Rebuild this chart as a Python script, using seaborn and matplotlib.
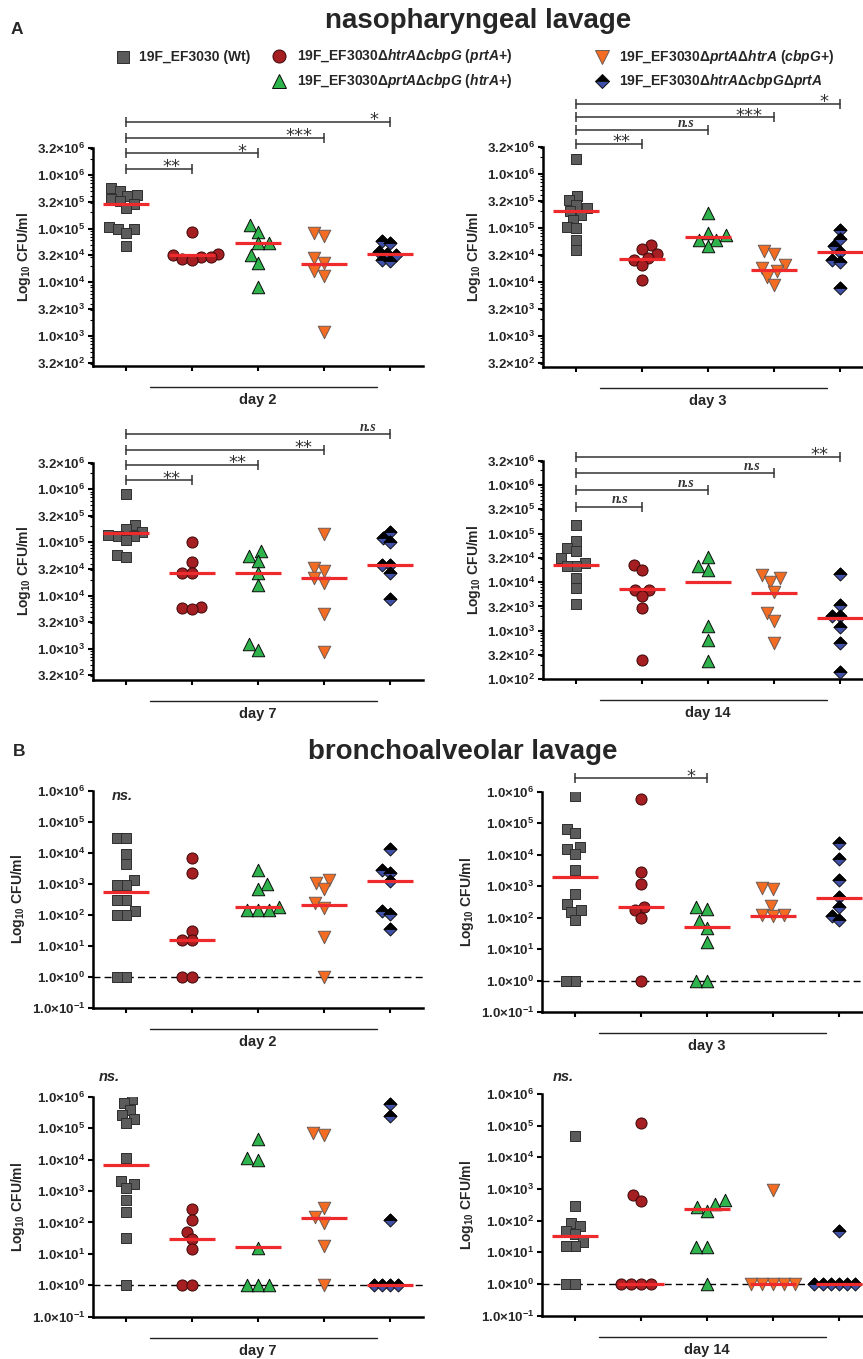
import numpy as np
import pandas as pd
import matplotlib.pyplot as plt
import seaborn as sns
from matplotlib.lines import Line2D
from matplotlib.markers import MarkerStyle
from matplotlib.ticker import FixedLocator, FuncFormatter, LogLocator, NullLocator
import warnings
warnings.filterwarnings('ignore')

# strains, in plotting order
STRAINS = ['Wt', 'prtA+', 'htrA+', 'cbpG+', 'triple']
LEGEND_LABELS = [
    '19F_EF3030 (Wt)',
    r'19F_EF3030Δ$\mathit{htrA}$Δ$\mathit{cbpG}$ ($\mathit{prtA}$+)',
    r'19F_EF3030Δ$\mathit{prtA}$Δ$\mathit{cbpG}$ ($\mathit{htrA}$+)',
    r'19F_EF3030Δ$\mathit{prtA}$Δ$\mathit{htrA}$ ($\mathit{cbpG}$+)',
    r'19F_EF3030Δ$\mathit{htrA}$Δ$\mathit{cbpG}$Δ$\mathit{prtA}$',
]

# ---- nasopharyngeal lavage (CFU/ml), one list per strain ----
NP_D2 = [
    [5.6e5, 4.9e5, 4.3e5, 4.0e5, 3.5e5, 3.2e5, 2.9e5, 2.4e5, 1.05e5, 1.0e5, 9.8e4, 8.1e4, 4.8e4],
    [8.5e4, 3.4e4, 3.2e4, 3.0e4, 3.0e4, 2.7e4, 2.6e4],
    [1.17e5, 8.5e4, 5.4e4, 5.4e4, 3.2e4, 2.3e4, 8.1e3],
    [8.1e4, 7.2e4, 2.8e4, 2.3e4, 1.6e4, 1.3e4, 1.2e3],
    [5.8e4, 5.3e4, 3.6e4, 3.4e4, 3.2e4, 2.6e4, 2.5e4],
]
NP_D2_MED = [2.9e5, 3.2e4, 5.4e4, 2.2e4, 3.4e4]
NP_D2_SIG = [(1, '**'), (2, '*'), (3, '***'), (4, '*')]

NP_D3 = [
    [1.9e6, 3.9e5, 3.2e5, 2.6e5, 2.3e5, 2.0e5, 1.7e5, 1.4e5, 1.05e5, 9.8e4, 5.8e4, 3.9e4],
    [4.8e4, 4.0e4, 3.3e4, 2.7e4, 2.5e4, 2.0e4, 1.07e4],
    [1.9e5, 8.1e4, 7.3e4, 6.0e4, 5.8e4, 4.5e4],
    [3.7e4, 3.3e4, 2.0e4, 1.8e4, 1.55e4, 1.23e4, 8.7e3],
    [9.1e4, 6.1e4, 4.5e4, 3.6e4, 2.5e4, 2.3e4, 7.6e3],
]
NP_D3_MED = [2.0e5, 2.6e4, 6.6e4, 1.66e4, 3.5e4]
NP_D3_SIG = [(1, '**'), (2, 'n.s'), (3, '***'), (4, '*')]

NP_D7 = [
    [8.0e5, 2.1e5, 1.8e5, 1.6e5, 1.4e5, 1.3e5, 1.3e5, 1.1e5, 5.8e4, 5.4e4],
    [1.0e5, 4.3e4, 2.7e4, 2.7e4, 6.2e3, 5.9e3, 5.5e3],
    [6.9e4, 5.6e4, 4.5e4, 2.6e4, 1.6e4, 1.25e3, 9.6e2],
    [1.45e5, 3.3e4, 2.9e4, 2.1e4, 1.7e4, 4.5e3, 8.5e2],
    [1.6e5, 1.2e5, 1.0e5, 3.8e4, 3.8e4, 2.7e4, 8.7e3],
]
NP_D7_MED = [1.5e5, 2.7e4, 2.6e4, 2.1e4, 3.7e4]
NP_D7_SIG = [(1, '**'), (2, '**'), (3, '**'), (4, 'n.s')]

NP_D14 = [
    [1.5e5, 7.1e4, 5.0e4, 4.3e4, 3.1e4, 2.5e4, 2.2e4, 2.2e4, 1.2e4, 7.4e3, 3.5e3],
    [2.3e4, 1.8e4, 6.9e3, 6.9e3, 5.2e3, 3.0e3, 2.5e2],
    [3.3e4, 2.1e4, 1.8e4, 1.26e3, 6.5e2, 2.4e2],
    [1.4e4, 1.2e4, 1.0e4, 6.3e3, 2.3e3, 1.6e3, 5.7e2],
    [1.5e4, 3.4e3, 2.0e3, 2.0e3, 1.2e3, 5.5e2, 1.4e2],
]
NP_D14_MED = [2.3e4, 7.1e3, 1.0e4, 6.0e3, 1.8e3]
NP_D14_SIG = [(1, 'n.s'), (2, 'n.s'), (3, 'n.s'), (4, '**')]

# ---- bronchoalveolar lavage (CFU/ml) ----
BAL_D2 = [
    [3.1e4, 3.1e4, 9.1e3, 4.3e3, 1.35e3, 9.4e2, 9.4e2, 3.0e2, 3.0e2, 1.3e2, 1.0e2, 1.0e2, 1, 1],
    [6.6e3, 2.3e3, 31, 15, 15, 1, 1],
    [2.7e3, 1.0e3, 6.7e2, 1.85e2, 1.45e2, 1.45e2, 1.45e2],
    [1.3e3, 1.1e3, 6.7e2, 2.5e2, 1.7e2, 19, 1],
    [1.3e4, 2.8e3, 2.3e3, 1.2e3, 1.3e2, 1.1e2, 35],
]
BAL_D2_MED = [5.6e2, 15, 1.8e2, 2.1e2, 1.25e3]

BAL_D3 = [
    [7.5e5, 6.6e4, 5.0e4, 1.8e4, 1.5e4, 1.05e4, 3.3e3, 5.5e2, 2.7e2, 1.8e2, 1.55e2, 85, 1, 1],
    [5.9e5, 2.9e3, 1.2e3, 2.2e2, 1.7e2, 1.0e2, 1],
    [2.1e2, 1.85e2, 76, 47, 17, 1, 1],
    [8.5e2, 8.0e2, 2.3e2, 1.2e2, 1.2e2, 1.1e2],
    [2.3e4, 7.1e3, 1.6e3, 4.6e2, 2.2e2, 1.15e2, 81],
]
BAL_D3_MED = [1.9e3, 2.2e2, 52, 1.1e2, 4.2e2]
BAL_D3_SIG = [(2, '*')]

BAL_D7 = [
    [8.3e5, 6.1e5, 3.8e5, 2.7e5, 2.0e5, 1.5e5, 1.1e4, 2.1e3, 1.65e3, 1.2e3, 5.1e2, 2.2e2, 32, 1],
    [2.7e2, 1.2e2, 51, 29, 14, 1, 1],
    [4.4e4, 1.15e4, 9.8e3, 15, 1, 1, 1],
    [7.1e4, 6.0e4, 2.8e2, 1.45e2, 98, 18, 1],
    [5.7e5, 2.4e5, 1.2e2, 1, 1, 1, 1],
]
BAL_D7_MED = [6.7e3, 30, 17, 1.35e2, 1]

BAL_D14 = [
    [4.6e4, 3.0e2, 87, 66, 46, 38, 22, 16, 16, 1, 1],
    [1.2e5, 6.3e2, 4.1e2, 1, 1, 1, 1],
    [4.6e2, 3.3e2, 2.8e2, 1.95e2, 15, 15, 1],
    [9.6e2, 1, 1, 1, 1, 1],
    [46, 1, 1, 1, 1, 1, 1],
]
BAL_D14_MED = [33, 1, 2.3e2, 1, 1]

# marker styles per strain
STYLES = [
    dict(marker='s', fc='#5b5b5b', ec='#2e2e2e', size=7.6),
    dict(marker='o', fc='#a51e21', ec='#3a0808', size=8.0),
    dict(marker='^', fc='#2fb34c', ec='#0a0a0a', size=9.0),
    dict(marker='v', fc='#f36c22', ec='#6b5a55', size=9.0),
    dict(marker='D', fc='#3f50a8', ec='#111111', size=6.6),
]
SHRINK = 0.75  # swarm laid out with smaller markers so points overlap like the original

sns.set_theme(style='ticks')
plt.rcParams['font.family'] = ['Liberation Sans', 'DejaVu Sans']
plt.rcParams['mathtext.fontset'] = 'custom'
plt.rcParams['mathtext.rm'] = 'Liberation Sans'
plt.rcParams['mathtext.bf'] = 'Liberation Sans:bold'
plt.rcParams['mathtext.it'] = 'Liberation Sans:italic:bold'
plt.rcParams['mathtext.default'] = 'bf'

W, H = 863, 1359
fig = plt.figure(figsize=(W / 100, H / 100), dpi=100)
swarms = []


def sci_label(v, pos):
    e = int(np.floor(np.log10(v) + 1e-6))
    return rf'${v / 10 ** e:.1f}{{\times}}10^{{{e}}}$'


def make_panel(left, top, bottom, groups, med, ylim, ticks, minor, day):
    ax = fig.add_axes([left / W, 1 - bottom / H, 330 / W, (bottom - top) / H])
    for i, (vals, st) in enumerate(zip(groups, STYLES)):
        df = pd.DataFrame({'strain': STRAINS[i], 'cfu': vals})
        n0 = len(ax.collections)
        sns.swarmplot(data=df, x='strain', y='cfu', order=STRAINS, log_scale=True,
                      marker=st['marker'], color=st['fc'], edgecolor=st['ec'],
                      linewidth=0.7, size=st['size'] * SHRINK, warn_thresh=1,
                      zorder=3, ax=ax)
        for coll in ax.collections[n0:]:
            swarms.append((ax, coll, st))
    pos = np.arange(len(STRAINS))
    ax.hlines(med, pos - 0.35, pos + 0.35, color='#ee2a2d', lw=2.3, zorder=5)

    ax.set_xlim(-0.5, 4.5)
    ax.set_ylim(*ylim)
    ax.yaxis.set_major_locator(FixedLocator(ticks))
    ax.yaxis.set_major_formatter(FuncFormatter(sci_label))
    if minor:
        ax.yaxis.set_minor_locator(LogLocator(base=10, subs=np.arange(2, 10)))
    else:
        ax.yaxis.set_minor_locator(NullLocator())
    ax.set_xticks(pos)
    ax.set_xticklabels([])
    ax.set_xlabel('')
    ax.set_ylabel(r'$Log_{10}$ CFU/ml', fontsize=10, fontweight='bold', labelpad=3)
    sns.despine(ax=ax)
    for s in ['left', 'bottom']:
        ax.spines[s].set_linewidth(1.8)
        ax.spines[s].set_color('black')
    ax.tick_params(axis='both', which='major', length=3.8, width=1.5, color='black',
                   labelsize=9.5, pad=2)
    ax.tick_params(axis='y', which='minor', length=2.2, width=0.8, color='black')

    tr = ax.get_xaxis_transform()
    ax.plot([0.37, 3.8], [-0.095, -0.095], color='#222222', lw=1.0,
            transform=tr, clip_on=False)
    ax.text(2, -0.155, day, transform=tr, ha='center', va='center',
            fontsize=10.5, fontweight='bold')
    return ax


def add_sig(ax, sig, base, step):
    tr = ax.get_xaxis_transform()
    for k, (j, lab) in enumerate(sig):
        y = base + k * step
        ax.plot([0, j], [y, y], color='#333333', lw=1.1, marker='|', ms=7, mew=1.1,
                transform=tr, clip_on=False)
        if lab == 'n.s':
            ax.annotate(lab, xy=(j, y), xycoords=tr, xytext=(-10, 2.5),
                        textcoords='offset points', ha='right', va='baseline',
                        fontsize=10, family='Liberation Serif', style='italic',
                        fontweight='bold', color='#333333', annotation_clip=False)
        else:
            ax.annotate(lab, xy=(j, y), xycoords=tr, xytext=(-8, -2.5),
                        textcoords='offset points', ha='right', va='baseline',
                        fontsize=13, family='DejaVu Sans', color='#333333',
                        annotation_clip=False)


def add_ns(ax, x, y):
    ax.text(x, y, 'ns.', transform=ax.get_xaxis_transform(), ha='center', va='center',
            fontsize=10.5, fontweight='bold', style='italic')


np_ticks = np.logspace(2.5, 6.5, 9)
np14_ticks = np.logspace(2.0, 6.5, 10)
bal_ticks = np.logspace(-1, 6, 8)

a1 = make_panel(93, 148, 366, NP_D2, NP_D2_MED, (10 ** 2.44, 10 ** 6.5), np_ticks, True, 'day 2')
add_sig(a1, NP_D2_SIG, 0.904, 0.072)
a2 = make_panel(543, 146.7, 367, NP_D3, NP_D3_MED, (10 ** 2.42, 10 ** 6.5), np_ticks, True, 'day 3')
add_sig(a2, NP_D3_SIG, 1.014, 0.06)
a3 = make_panel(93, 462.7, 680, NP_D7, NP_D7_MED, (10 ** 2.41, 10 ** 6.5), np_ticks, True, 'day 7')
add_sig(a3, NP_D7_SIG, 0.92, 0.07)
a4 = make_panel(543, 460.7, 679.3, NP_D14, NP_D14_MED, (1e2, 10 ** 6.5), np14_ticks, True, 'day 14')
add_sig(a4, NP_D14_SIG, 0.79, 0.076)

b1 = make_panel(93, 790.7, 1008, BAL_D2, BAL_D2_MED, (0.1, 1e6), bal_ticks, False, 'day 2')
add_ns(b1, -0.06, 0.977)
b2 = make_panel(542, 791.7, 1012, BAL_D3, BAL_D3_MED, (0.1, 1e6), bal_ticks, False, 'day 3')
add_sig(b2, BAL_D3_SIG, 1.06, 0)
b3 = make_panel(93, 1096.7, 1316.7, BAL_D7, BAL_D7_MED, (0.1, 1e6), bal_ticks, False, 'day 7')
add_ns(b3, -0.26, 1.09)
b4 = make_panel(542, 1094, 1315.7, BAL_D14, BAL_D14_MED, (0.1, 1e6), bal_ticks, False, 'day 14')
add_ns(b4, -0.18, 1.078)
for ax in [b1, b2, b3, b4]:
    ax.axhline(1, color='black', lw=1.0, ls=(0, (5, 3)), zorder=1)

# lay out the swarms once, then freeze them and draw the markers at full size
fig.canvas.draw()
half_top = MarkerStyle('D', fillstyle='top')
for ax, coll, st in swarms:
    coll.__dict__.pop('draw', None)
    coll.set_sizes([st['size'] ** 2])
    if st['marker'] == 'D':
        offs = coll.get_offsets()
        ax.scatter(offs[:, 0], offs[:, 1], marker=half_top, s=st['size'] ** 2,
                   c='black', edgecolors='black', linewidths=0.6, zorder=3.1)
for ax, ylim in [(a1, (10 ** 2.44, 10 ** 6.5)), (a2, (10 ** 2.42, 10 ** 6.5)),
                 (a3, (10 ** 2.41, 10 ** 6.5)), (a4, (1e2, 10 ** 6.5)),
                 (b1, (0.1, 1e6)), (b2, (0.1, 1e6)), (b3, (0.1, 1e6)), (b4, (0.1, 1e6))]:
    ax.set_xlim(-0.5, 4.5)
    ax.set_ylim(*ylim)

# titles and panel letters
fig.text(478 / W, 1 - 21.5 / H, 'nasopharyngeal lavage', ha='center', va='center',
         fontsize=20, fontweight='bold')
fig.text(463 / W, 1 - 752 / H, 'bronchoalveolar lavage', ha='center', va='center',
         fontsize=20, fontweight='bold')
fig.text(17 / W, 1 - 30 / H, 'A', ha='center', va='center', fontsize=12.5, fontweight='bold')
fig.text(19 / W, 1 - 752 / H, 'B', ha='center', va='center', fontsize=12.5, fontweight='bold')

# legend, laid out like the original (two rows, three columns)
leg_pos = [(122.7, 57, 139), (279, 56, 297), (279, 81, 297), (602, 57, 619), (602, 81, 619)]
leg_ms = [8.6, 9.4, 10.0, 10.0, 7.1]
for (mx, my, tx), st, ms, lab in zip(leg_pos, STYLES, leg_ms, LEGEND_LABELS):
    if st['marker'] == 'D':
        h = Line2D([mx / W], [1 - my / H], transform=fig.transFigure, marker='D', ms=ms,
                   fillstyle='top', markerfacecolor='black', markerfacecoloralt=st['fc'],
                   markeredgecolor=st['ec'], markeredgewidth=0.7, linestyle='none')
    else:
        h = Line2D([mx / W], [1 - my / H], transform=fig.transFigure, marker=st['marker'],
                   ms=ms, markerfacecolor=st['fc'], markeredgecolor=st['ec'],
                   markeredgewidth=0.7, linestyle='none')
    fig.add_artist(h)
    fig.text(tx / W, 1 - my / H, lab, ha='left', va='center', fontsize=10, fontweight='bold')

fig.savefig('out.png', dpi=100)
